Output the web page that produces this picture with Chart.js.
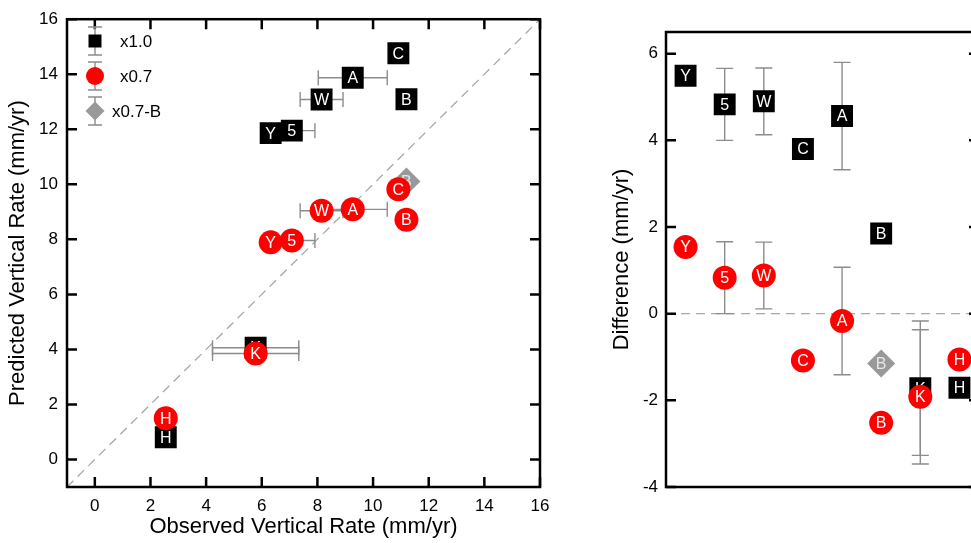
<!DOCTYPE html>
<html>
<head>
<meta charset="utf-8">
<script src="https://cdn.jsdelivr.net/npm/chart.js@4.4.1/dist/chart.umd.min.js"></script>
<style>
  html, body { margin: 0; padding: 0; background: #fff; overflow: hidden; width: 971px; height: 543px; }
  #left { position: absolute; left: 0; top: 0; }
  #right { position: absolute; left: 580px; top: 0; }
</style>
</head>
<body>
<canvas id="left" width="560" height="543"></canvas>
<canvas id="right" width="420" height="543"></canvas>
<script>
// sites, in the order of the difference panel
const sites = ["Y", "5", "W", "C", "A", "B", "K", "H"];
const observed = [6.32, 7.08, 8.15, 10.91, 9.27, 11.2, 5.78, 2.55];
const observedErr = [0, 0.83, 0.77, 0, 1.24, 0, 1.55, 0];

const predictedX10 = [11.86, 11.95, 13.08, 14.76, 13.87, 13.09, 4.06, 0.81];
const predictedX07 = [7.89, 7.96, 9.04, 9.82, 9.09, 8.71, 3.85, 1.5];
const predictedX07B = [null, null, null, null, null, 10.1, null, null];

const diffX10 = [5.49, 4.83, 4.9, 3.8, 4.56, 1.85, -1.72, -1.71];
const diffX07 = [1.54, 0.83, 0.88, -1.08, -0.17, -2.52, -1.92, -1.06];
const diffX07B = [null, null, null, null, null, -1.15, null, null];

const rateTicks = [0, 2, 4, 6, 8, 10, 12, 14, 16];
const diffTicks = [-4, -2, 0, 2, 4, 6];

const FONT = "'Liberation Sans', Arial, Helvetica, sans-serif";
const ERR_COLOR = "#8c8c8c";

function scatterPoints(values) {
  const pts = [];
  sites.forEach((s, i) => {
    if (values[i] != null) pts.push({ x: observed[i], y: values[i], i: i, site: s });
  });
  return pts;
}

function drawMarker(ctx, style, x, y, r) {
  ctx.beginPath();
  if (style === "rect") {
    ctx.rect(x - r, y - r, 2 * r, 2 * r);
  } else if (style === "circle") {
    ctx.arc(x, y, r, 0, Math.PI * 2);
  } else {
    ctx.moveTo(x, y - r); ctx.lineTo(x + r, y); ctx.lineTo(x, y + r); ctx.lineTo(x - r, y);
    ctx.closePath();
  }
  ctx.fill();
}

// frame, inward ticks, reference line, error bars, point labels, legend
const panelPlugin = {
  id: "panel",
  beforeDatasetsDraw(chart, args, opts) {
    const { ctx, chartArea: a, scales: { x, y } } = chart;
    ctx.save();
    ctx.beginPath();
    ctx.rect(a.left, a.top, a.right - a.left, a.bottom - a.top);
    ctx.clip();

    ctx.strokeStyle = "#a8a8a8";
    ctx.lineWidth = 1.3;
    ctx.setLineDash([9, 6]);
    ctx.beginPath();
    if (opts.diagonal) {
      ctx.moveTo(x.getPixelForValue(x.min), y.getPixelForValue(x.min));
      ctx.lineTo(x.getPixelForValue(x.max), y.getPixelForValue(x.max));
    } else {
      ctx.moveTo(a.left, y.getPixelForValue(0));
      ctx.lineTo(a.right, y.getPixelForValue(0));
    }
    ctx.stroke();
    ctx.setLineDash([]);

    ctx.strokeStyle = ERR_COLOR;
    ctx.lineWidth = 1.4;
    chart.data.datasets.forEach((ds, di) => {
      if (!ds.errorBars) return;
      const meta = chart.getDatasetMeta(di);
      meta.data.forEach((pt, k) => {
        if (pt.skip) return;
        const raw = ds.data[k];
        ctx.beginPath();
        if (opts.horizontal) {
          const e = observedErr[raw.i];
          if (!e) return;
          const x0 = x.getPixelForValue(raw.x - e), x1 = x.getPixelForValue(raw.x + e);
          ctx.moveTo(x0, pt.y); ctx.lineTo(x1, pt.y);
          ctx.moveTo(x0, pt.y - 7.5); ctx.lineTo(x0, pt.y + 7.5);
          ctx.moveTo(x1, pt.y - 7.5); ctx.lineTo(x1, pt.y + 7.5);
        } else {
          const e = observedErr[k];
          if (!e) return;
          const y0 = y.getPixelForValue(raw - e), y1 = y.getPixelForValue(raw + e);
          ctx.moveTo(pt.x, y0); ctx.lineTo(pt.x, y1);
          ctx.moveTo(pt.x - 8.5, y0); ctx.lineTo(pt.x + 8.5, y0);
          ctx.moveTo(pt.x - 8.5, y1); ctx.lineTo(pt.x + 8.5, y1);
        }
        ctx.stroke();
      });
    });
    ctx.restore();
  },
  afterDatasetDraw(chart, args, opts) {
    const ctx = chart.ctx;
    const ds = chart.data.datasets[args.index];
    ctx.save();
    ctx.fillStyle = ds.labelColor || "#fff";
    ctx.font = "16px " + FONT;
    ctx.textAlign = "center";
    ctx.textBaseline = "middle";
    args.meta.data.forEach((pt, k) => {
      if (pt.skip) return;
      const raw = ds.data[k];
      const text = opts.horizontal ? raw.site : sites[k];
      ctx.fillText(text, pt.x, pt.y + 1);
    });
    ctx.restore();
  },
  afterDraw(chart, args, opts) {
    const { ctx, chartArea: a, scales: { x, y } } = chart;
    ctx.save();
    ctx.strokeStyle = "#000";
    ctx.lineWidth = 2.5;
    ctx.strokeRect(a.left, a.top, a.right - a.left, a.bottom - a.top);
    const len = 10;
    ctx.beginPath();
    y.ticks.forEach(t => {
      const py = y.getPixelForValue(t.value);
      ctx.moveTo(a.left, py); ctx.lineTo(a.left + len, py);
      ctx.moveTo(a.right, py); ctx.lineTo(a.right - len, py);
    });
    if (opts.horizontal) {
      x.ticks.forEach(t => {
        const px = x.getPixelForValue(t.value);
        ctx.moveTo(px, a.bottom); ctx.lineTo(px, a.bottom - len);
        ctx.moveTo(px, a.top); ctx.lineTo(px, a.top + len);
      });
    }
    ctx.stroke();

    if (opts.legend) {
      const lg = opts.legend;
      chart.data.datasets.forEach((ds, di) => {
        const cy = lg.y + di * lg.dy;
        ctx.strokeStyle = ERR_COLOR;
        ctx.lineWidth = 1.4;
        ctx.beginPath();
        ctx.moveTo(lg.x, cy - 14); ctx.lineTo(lg.x, cy + 14);
        ctx.moveTo(lg.x - 7, cy - 14); ctx.lineTo(lg.x + 7, cy - 14);
        ctx.moveTo(lg.x - 7, cy + 14); ctx.lineTo(lg.x + 7, cy + 14);
        ctx.stroke();
        ctx.fillStyle = ds.backgroundColor;
        drawMarker(ctx, ds.pointStyle, lg.x, cy, lg.size[di]);
        ctx.fillStyle = "#000";
        ctx.font = "17px " + FONT;
        ctx.textAlign = "left";
        ctx.textBaseline = "middle";
        ctx.fillText(ds.label, lg.textX[di], cy + 1);
      });
    }
    ctx.restore();
  }
};

function tickFont() { return { size: 17, family: FONT }; }

const sharedDs = { borderWidth: 0, hoverRadius: 0, pointHoverRadius: 0 };

new Chart(document.getElementById("left"), {
  type: "scatter",
  data: {
    datasets: [
      Object.assign({ label: "x1.0", data: scatterPoints(predictedX10), pointStyle: "rect",
        pointRadius: 15.5, backgroundColor: "#000", errorBars: true, order: 2 }, sharedDs),
      Object.assign({ label: "x0.7", data: scatterPoints(predictedX07), pointStyle: "circle",
        pointRadius: 12, backgroundColor: "#ff0000", errorBars: true, order: 0 }, sharedDs),
      Object.assign({ label: "x0.7-B", data: scatterPoints(predictedX07B), pointStyle: "rectRot",
        pointRadius: 14, backgroundColor: "#999999", labelColor: "#e6e6e6", order: 1 }, sharedDs)
    ]
  },
  options: {
    responsive: false,
    animation: false,
    devicePixelRatio: 1,
    layout: { padding: { left: 0, top: 15, right: 20, bottom: 0 } },
    plugins: {
      legend: { display: false },
      tooltip: { enabled: false },
      panel: { diagonal: true, horizontal: true,
        legend: { x: 95, y: 41, dy: 35, size: [6.5, 9, 9.5], textX: [120, 120, 112] } }
    },
    scales: {
      x: {
        type: "linear", min: -1, max: 16,
        afterBuildTicks: s => { s.ticks = rateTicks.map(v => ({ value: v })); },
        afterFit: s => { s.height = 56; },
        grid: { display: false, drawTicks: false },
        border: { display: false },
        ticks: { color: "#000", font: tickFont(), padding: 9, maxRotation: 0 },
        title: { display: true, text: "Observed Vertical Rate (mm/yr)", color: "#000",
          font: { size: 22, family: FONT }, padding: { top: 0, bottom: 3 } }
      },
      y: {
        type: "linear", min: -1, max: 16,
        afterBuildTicks: s => { s.ticks = rateTicks.map(v => ({ value: v })); },
        afterFit: s => { s.width = 67; },
        grid: { display: false, drawTicks: false },
        border: { display: false },
        ticks: { color: "#000", font: tickFont(), padding: 9 },
        title: { display: true, text: "Predicted Vertical Rate (mm/yr)", color: "#000",
          font: { size: 22, family: FONT }, padding: { top: 5, bottom: 0 } }
      }
    }
  },
  plugins: [panelPlugin]
});

new Chart(document.getElementById("right"), {
  type: "line",
  data: {
    labels: sites,
    datasets: [
      Object.assign({ label: "x1.0", data: diffX10, showLine: false, pointStyle: "rect",
        pointRadius: 15.5, backgroundColor: "#000", errorBars: true, order: 2 }, sharedDs),
      Object.assign({ label: "x0.7", data: diffX07, showLine: false, pointStyle: "circle",
        pointRadius: 12, backgroundColor: "#ff0000", errorBars: true, order: 0 }, sharedDs),
      Object.assign({ label: "x0.7-B", data: diffX07B, showLine: false, pointStyle: "rectRot",
        pointRadius: 14, backgroundColor: "#999999", labelColor: "#e6e6e6", order: 1 }, sharedDs)
    ]
  },
  options: {
    responsive: false,
    animation: false,
    devicePixelRatio: 1,
    layout: { padding: { left: 0, top: 32, right: 21, bottom: 56 } },
    plugins: {
      legend: { display: false },
      tooltip: { enabled: false },
      panel: { diagonal: false, horizontal: false }
    },
    scales: {
      x: { type: "category", offset: true, display: false },
      y: {
        type: "linear", min: -4, max: 6.5,
        afterBuildTicks: s => { s.ticks = diffTicks.map(v => ({ value: v })); },
        afterFit: s => { s.width = 86; },
        grid: { display: false, drawTicks: false },
        border: { display: false },
        ticks: { color: "#000", font: tickFont(), padding: 8 },
        title: { display: true, text: "Difference (mm/yr)", color: "#000",
          font: { size: 22, family: FONT }, padding: { top: 29, bottom: 0 } }
      }
    }
  },
  plugins: [panelPlugin]
});
</script>
</body>
</html>
